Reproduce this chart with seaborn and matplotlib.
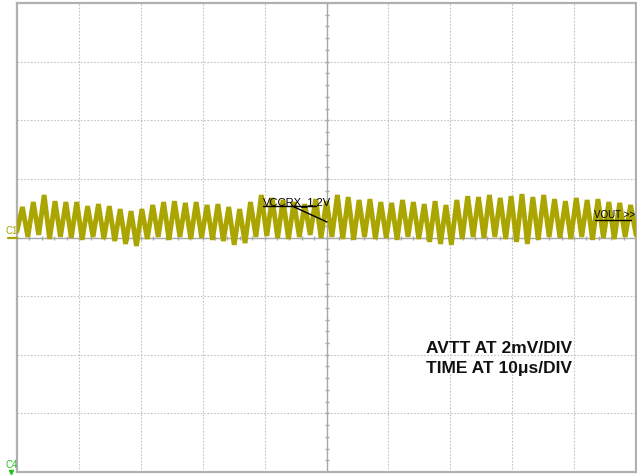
import numpy as np
import pandas as pd
import matplotlib
matplotlib.use("Agg")
import matplotlib.pyplot as plt
import seaborn as sns
from matplotlib.lines import Line2D

# ---- data (AVTT ripple, mV) ----
time_span_us = 100.0          # 10 div x 10 us/div
n_cycles = 57
peaks_mV = [1.04, 1.21, 1.45, 1.24, 1.21, 1.21, 1.07, 1.14, 1.07, 0.97,
            0.90, 0.97, 1.11, 1.21, 1.24, 1.18, 1.21, 1.11, 1.14, 1.04,
            0.97, 1.21, 1.45, 1.35, 1.28, 1.21, 1.14, 1.31, 1.24, 1.45,
            1.38, 1.28, 1.31, 1.21, 1.18, 1.28, 1.21, 1.14, 1.24, 1.11,
            1.28, 1.41, 1.38, 1.45, 1.35, 1.41, 1.48, 1.38, 1.45, 1.31,
            1.24, 1.35, 1.28, 1.31, 1.21, 1.18, 1.11]
troughs_mV = [0.22, 0.02, 0.09, -0.05, 0.02, -0.01, -0.08, 0.02, -0.05, -0.12,
              -0.22, -0.29, -0.05, 0.02, -0.08, 0.02, -0.05, -0.01, -0.08, -0.12,
              -0.25, -0.19, 0.02, 0.05, -0.01, -0.05, 0.02, 0.09, -0.01, 0.02,
              -0.05, -0.08, 0.02, -0.05, -0.01, -0.08, 0.02, -0.05, -0.15, -0.22,
              -0.25, -0.05, 0.02, -0.01, 0.02, -0.05, -0.15, -0.22, -0.08, 0.02,
              -0.01, -0.05, 0.02, -0.08, -0.01, -0.05, 0.02, 0.09]

# interleave trough, peak, trough, ...
values = []
for i in range(len(troughs_mV)):
    values.append(troughs_mV[i])
    if i < len(peaks_mV):
        values.append(peaks_mV[i])
half_period = time_span_us / n_cycles / 2
times = np.arange(len(values)) * half_period
df = pd.DataFrame({"t": times, "v": values})

# ---- figure ----
sns.set_style("white")
plt.rcParams['font.family'] = ['Liberation Sans', 'DejaVu Sans']
W, H = 637, 477
fig = plt.figure(figsize=(W / 100, H / 100), dpi=100)
ax = fig.add_axes([17 / W, 4 / H, 619 / W, 469 / H])
ax.set_xlim(0, 100)
ax.set_ylim(-8, 8)

grid_c = '#c2c2c2'
for i in range(1, 10):
    if i != 5:
        ax.axvline(i * 10, color=grid_c, lw=0.8, ls=(0, (1.5, 1.5)), zorder=1)
for j in (-6, -4, -2, 2, 4, 6):
    ax.axhline(j, color=grid_c, lw=0.8, ls=(0, (1.5, 1.5)), zorder=1)
# center crosshair with minor ticks
ax.axvline(50, color='#a8a8a8', lw=1.0, zorder=1)
ax.axhline(0, color='#a8a8a8', lw=1.0, zorder=1)
ax.plot(np.full(41, 50.0), np.linspace(-8, 8, 41), ls='none', marker='_',
        ms=3.2, mew=1.0, color='#a8a8a8', zorder=1)
ax.plot(np.linspace(0, 100, 51), np.zeros(51), ls='none', marker='|',
        ms=3.2, mew=1.0, color='#a8a8a8', zorder=1)

trace_c = '#aaa500'
sns.lineplot(data=df, x="t", y="v", color=trace_c, lw=3.5, estimator=None,
             sort=False, ax=ax, zorder=3)
ax.lines[-1].set_solid_joinstyle('miter')

ax.set_xticks([])
ax.set_yticks([])
ax.set_xlabel("")
ax.set_ylabel("")
for s in ax.spines.values():
    s.set_color('#b0b0b0')
    s.set_linewidth(1.6)
    s.set_visible(True)

# helper: pixel -> figure fraction
def fx(px):
    return px / W

def fy(py):
    return 1 - py / H

narrow = ['Liberation Sans Narrow', 'Liberation Sans', 'DejaVu Sans']
# probe labels
fig.text(fx(263), fy(205), "VCCRX_1.2V", fontsize=8, family=narrow,
         color='black', ha='left', va='baseline')
fig.add_artist(Line2D([fx(263), fx(316)], [fy(207), fy(207)], color='black', lw=1.0))
fig.add_artist(Line2D([fx(292), fx(327)], [fy(207), fy(223)], color='black', lw=1.0))

fig.text(fx(594), fy(218), "VOUT >>", fontsize=7, family=narrow,
         color='black', ha='left', va='baseline')
fig.add_artist(Line2D([fx(595), fx(631)], [fy(220.5), fy(220.5)], color='black', lw=1.0))

# channel markers
fig.text(fx(6), fy(234.5), "C1", fontsize=7, family=['Liberation Sans', 'DejaVu Sans'],
         color=trace_c, ha='left', va='baseline')
fig.add_artist(Line2D([fx(8), fx(17)], [fy(238.5), fy(238.5)], color=trace_c, lw=1.6))
fig.text(fx(6), fy(468.5), "C4", fontsize=7, family=['Liberation Sans', 'DejaVu Sans'],
         color='#22c422', ha='left', va='baseline')
fig.add_artist(Line2D([fx(11)], [fy(473)], marker='v', ms=3, color='#22c422', ls='none'))

# annotation text
fig.text(fx(499), fy(353), "AVTT AT 2mV/DIV", fontsize=12.5, fontweight='bold',
         color='#111111', ha='center', va='baseline')
fig.text(fx(499), fy(373), "TIME AT 10\u03bcs/DIV", fontsize=12.5, fontweight='bold',
         color='#111111', ha='center', va='baseline')

fig.savefig("out.png", dpi=100)
